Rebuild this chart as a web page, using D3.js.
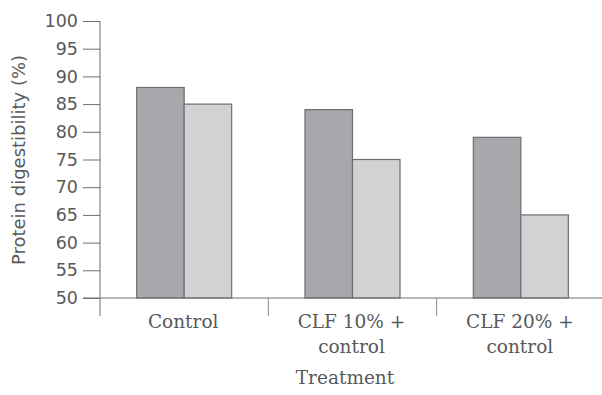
<!DOCTYPE html>
<html><head><meta charset="utf-8">
<script src="https://cdn.jsdelivr.net/npm/d3@7"></script>
<style>body{margin:0;background:#fff}</style>
</head><body><svg id="c" width="602" height="395"></svg>
<script>
const categories = [["Control"], ["CLF 10% +", "control"], ["CLF 20% +", "control"]];
const seriesA = [88, 84, 79];
const seriesB = [85, 75, 65];
const yTicks = [50, 55, 60, 65, 70, 75, 80, 85, 90, 95, 100];
const yTitle = "Protein digestibility (%)";
const xTitle = "Treatment";

const svg = d3.select("#c");
const axisCol = "#6d6e71", textCol = "#58595b";
const x = d3.scaleBand().domain(d3.range(categories.length)).range([100, 605]).padding(0);
const y = d3.scaleLinear().domain([50, 100]).range([298, 21]);
const inner = d3.scaleBand().domain([0, 1]).range([0, 95]);

const g = svg.append("g");
categories.forEach((c, i) => {
  const x0 = x(i) + (x.bandwidth() - 95) / 2;
  [[seriesA[i], "#a7a8ab"], [seriesB[i], "#d1d2d4"]].forEach(([v, col], k) => {
    g.append("rect").attr("x", x0 + inner(k)).attr("width", inner.bandwidth())
      .attr("y", y(v)).attr("height", y(50) - y(v))
      .attr("fill", col).attr("stroke", axisCol).attr("stroke-width", 1.2);
  });
});

// y axis
const ya = svg.append("g").attr("transform", "translate(100,0)")
  .call(d3.axisLeft(y).tickValues(yTicks).tickSize(17).tickPadding(5));
ya.select(".domain").remove();
ya.selectAll(".tick line").attr("stroke", axisCol);
ya.selectAll(".tick text").attr("fill", textCol).style("font-family", "DejaVu Sans").style("font-size", "17.5px");
svg.append("line").attr("x1", 100).attr("x2", 100).attr("y1", y(100)).attr("y2", 316).attr("stroke", axisCol);
svg.append("line").attr("x1", 83).attr("x2", 602).attr("y1", y(50)).attr("y2", y(50)).attr("stroke", axisCol);
// separators
categories.forEach((c, i) => {
  if (i > 0) svg.append("line").attr("x1", x(i)).attr("x2", x(i)).attr("y1", y(50)).attr("y2", 316).attr("stroke", "#8a8b8d");
});
// category labels
categories.forEach((c, i) => {
  const t = svg.append("text").attr("text-anchor", "middle").attr("fill", textCol)
    .style("font-family", "DejaVu Serif").style("font-size", "18.5px");
  c.forEach((line, j) => {
    t.append("tspan").attr("x", x(i) + x.bandwidth() / 2 - 1).attr("y", 328 + j * 25).text(line);
  });
});
svg.append("text").attr("x", 345).attr("y", 384).attr("text-anchor", "middle").attr("fill", textCol)
  .style("font-family", "DejaVu Serif").style("font-size", "18.5px").text(xTitle);
svg.append("text").attr("transform", "translate(25,160) rotate(-90)").attr("text-anchor", "middle")
  .attr("fill", textCol).style("font-family", "DejaVu Sans").style("font-size", "18px").text(yTitle);
</script></body></html>
